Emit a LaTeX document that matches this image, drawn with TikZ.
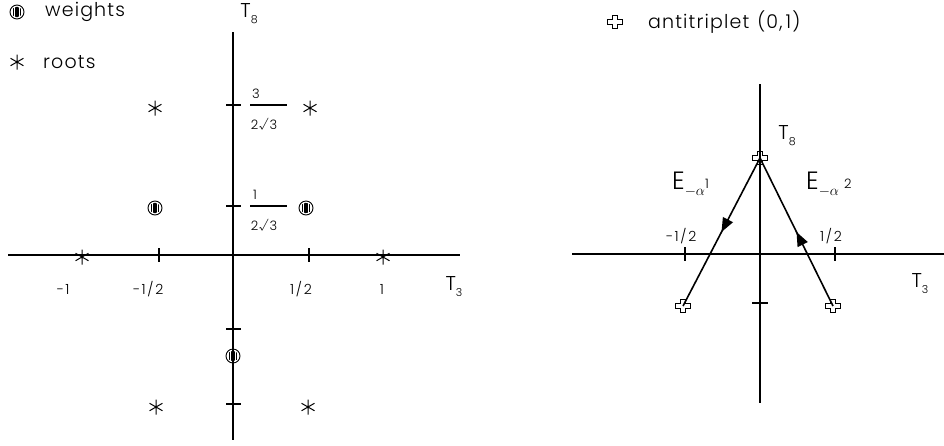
\documentclass[tikz,border=0pt]{standalone}
\usepackage{fontspec}
\setmainfont{Poppins Light}
\usetikzlibrary{positioning,arrows.meta,decorations.markings}

\newcommand{\tsub}[2]{#1\raisebox{-6pt}{\fontsize{11}{11}\selectfont #2}}

\begin{document}
\begin{tikzpicture}[x=1pt,y=-1pt,
  axis/.style={line width=1.8pt},
  tickmark/.style={line width=1.6pt},
  fracbar/.style={line width=1.4pt},
  eline/.style={line width=1.6pt},
  midarrow/.style={postaction={decorate},decoration={markings,
      mark=at position 0.5 with {\arrow{Triangle[length=14pt,width=11pt]}}}},
  lbl/.style={inner sep=0pt,font=\fontsize{14}{16}\selectfont\addfontfeature{LetterSpace=12}},
  fraclbl/.style={inner sep=0pt,font=\fontsize{13}{15}\selectfont\addfontfeature{LetterSpace=6}},
  bigtext/.style={inner sep=0pt,anchor=west,font=\fontsize{19}{22}\selectfont\addfontfeature{LetterSpace=6}},
  tlbl/.style={inner sep=0pt,font=\fontsize{20}{22}\selectfont},
  root/.style={inner sep=0pt,minimum size=18pt,
    path picture={\draw[line width=1pt,shift={(path picture bounding box.center)}]
      (90:7.5) -- (270:7.5) (30:7.5) -- (210:7.5) (150:7.5) -- (330:7.5);}},
  weight/.style={inner sep=0pt,minimum size=18pt,
    path picture={\begin{scope}[shift={(path picture bounding box.center)}]
      \draw[line width=0.9pt] (0,0) circle (7);
      \clip (0,0) circle (5.3);
      \foreach \s in {-3.6,-1.8,0,1.8,3.6} \draw[line width=1.1pt] (\s,-6) -- (\s,6);
    \end{scope}}},
  antiw/.style={inner sep=0pt,minimum size=18pt,
    path picture={\draw[line width=0.9pt,shift={(path picture bounding box.center)}]
      (-2.7,-6.5) -- (2.7,-6.5) -- (2.7,-2.5) -- (7.5,-2.5) -- (7.5,2.5) -- (2.7,2.5)
      -- (2.7,6.5) -- (-2.7,6.5) -- (-2.7,2.5) -- (-7.5,2.5) -- (-7.5,-2.5) -- (-2.7,-2.5) -- cycle;}}]
  \useasboundingbox (0,0) rectangle (944,445);

  % legend
  \node[weight] (lgw) at (17,12) {};
  \node[bigtext] (lgwt) at (45,12) {weights};
  \node[root] (lgr) at (17,62) {};
  \node[bigtext] (lgrt) at (43,62) {roots};
  \node[antiw] (lga) at (615,22) {};
  \node[bigtext] (lgat) at (648,22) {antitriplet\hspace{8pt}(0,\hspace{3pt}1)};

  % left diagram: octet
  \coordinate (lw) at (8,255);
  \coordinate (le) at (460,255);
  \coordinate (ln) at (233,32);
  \coordinate (ls) at (233,440);
  \draw[axis] (lw) -- (le);
  \draw[axis] (ln) -- (ls);
  \foreach \x in {159,309} \draw[tickmark] (\x,248) -- (\x,262);
  \foreach \y in {105,206,329,404} \draw[tickmark] (226,\y) -- (241,\y);
  \draw[fracbar] (250,105) -- (287,105);
  \draw[fracbar] (250,206) -- (287,206);
  \node[fraclbl] (n3) at (256,94) {3};
  \node[fraclbl] (d3) at (264,124) {2√3};
  \node[fraclbl] (n1) at (255,195) {1};
  \node[fraclbl] (d1) at (264,225) {2√3};
  \node[lbl] (lm1) at (63,289) {−1};
  \node[lbl] (lmh) at (148,289) {−1/2};
  \node[lbl] (lph) at (301,289) {1/2};
  \node[lbl] (lp1) at (382,289) {1};
  \node[tlbl] (lt3) at (454,287) {\tsub{T}{3}};
  \node[tlbl] (lt8) at (249,14) {\tsub{T}{8}};
  % roots
  \node[root] (r1) at (155,108) {};
  \node[root] (r2) at (310,108) {};
  \node[root] (r3) at (82,257) {};
  \node[root] (r4) at (383,257) {};
  \node[root] (r5) at (156,407) {};
  \node[root] (r6) at (308,407) {};
  % weights
  \node[weight] (w1) at (155,208) {};
  \node[weight] (w2) at (306,208) {};
  \node[weight] (w3) at (233,356) {};

  % right diagram: antitriplet
  \coordinate (rw) at (572,254);
  \coordinate (re) at (944,254);
  \coordinate (rn) at (760,84);
  \coordinate (rs) at (760,403);
  \draw[axis] (rw) -- (re);
  \draw[axis] (rn) -- (rs);
  \foreach \x in {685,835} \draw[tickmark] (\x,247) -- (\x,261);
  \draw[tickmark] (752,303) -- (768,303);
  \node[lbl] (rmh) at (681,236) {−1/2};
  \node[lbl] (rph) at (831,236) {1/2};
  \node[tlbl] (rt8) at (787,136) {\tsub{T}{8}};
  \node[tlbl] (rt3) at (920,284) {\tsub{T}{3}};
  \node[antiw] (top) at (760,158) {};
  \node[antiw] (bl) at (683,306) {};
  \node[antiw] (br) at (833,306) {};
  \draw[eline,midarrow] (top.center) -- (bl.center);
  \draw[eline,midarrow] (br.center) -- (top.center);
  \node[inner sep=0pt,anchor=west,font=\fontsize{25}{28}\selectfont] (ea1) at (672,184)
    {E\raisebox{-6pt}{\fontsize{14}{14}\selectfont$-\alpha$}\raisebox{1pt}{\fontsize{13}{13}\selectfont 1}};
  \node[inner sep=0pt,anchor=west,font=\fontsize{25}{28}\selectfont] (ea2) at (806,184)
    {E\raisebox{-6pt}{\fontsize{14}{14}\selectfont$-\alpha$}\hspace{5pt}\raisebox{1pt}{\fontsize{13}{13}\selectfont 2}};
\end{tikzpicture}
\end{document}
